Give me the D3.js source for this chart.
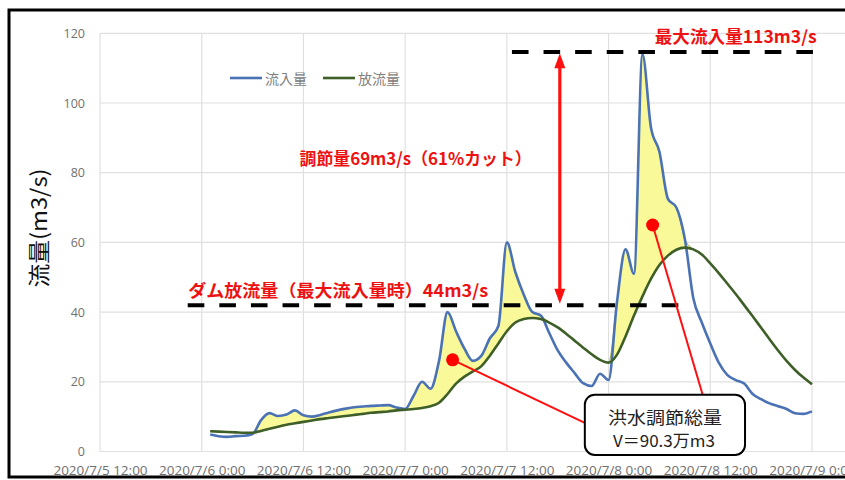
<!DOCTYPE html>
<html><head><meta charset="utf-8">
<script src="https://cdn.jsdelivr.net/npm/d3@7"></script>
<style>html,body{margin:0;padding:0;background:#fff;overflow:hidden}</style>
</head><body><svg id="chart" width="845" height="480"></svg>
<script>
// ---------- data ----------
const seriesNames = ["流入量", "放流量"];
const firstHour = "2020/7/6 1:00";           // hourly data from here
const inflow = [
  4.9, 4.4, 4.2, 4.4, 4.5, 5.0, 9.0, 11.0, 10.2, 10.6, 11.8, 10.4,
  10.0, 10.5, 11.2, 11.8, 12.3, 12.7, 12.9, 13.1, 13.2, 13.3, 12.6, 12.2,
  16.0, 20.0, 18.0, 26.0, 40.0, 34.5, 29.5, 26.0, 27.5, 32.5, 36.0, 60.0,
  51.5, 45.0, 40.0, 39.0, 34.0, 29.0, 25.5, 22.5, 19.6, 18.8, 22.3, 20.5,
  43.0, 58.0, 51.0, 114.0, 93.0, 86.0, 72.5, 70.0, 61.0, 44.0, 37.0, 31.0,
  25.5, 22.0, 20.5, 19.5, 16.5, 15.0, 13.8, 13.0, 12.2, 11.0, 10.8, 11.5
];
const outflow = [
  5.8, 5.7, 5.6, 5.5, 5.4, 5.4, 5.9, 6.5, 7.1, 7.7, 8.1, 8.5,
  8.9, 9.3, 9.6, 9.9, 10.2, 10.5, 10.8, 11.1, 11.3, 11.5, 11.8, 12.0,
  12.2, 12.5, 13.0, 14.0, 16.5, 19.5, 21.5, 23.0, 24.5, 27.5, 31.0, 34.5,
  37.0, 38.0, 38.3, 38.0, 37.0, 35.6, 33.8, 31.8, 29.8, 27.9, 26.3, 25.5,
  27.8, 33.0, 39.0, 44.5, 49.5, 53.5, 56.2, 57.9, 58.5, 58.0, 56.5, 54.0,
  51.2, 48.2, 45.2, 42.0, 38.8, 35.5, 32.2, 29.0, 26.0, 23.4, 21.2, 19.3
];
const tickLabels = ["2020/7/5 12:00", "2020/7/6 0:00", "2020/7/6 12:00", "2020/7/7 0:00",
  "2020/7/7 12:00", "2020/7/8 0:00", "2020/7/8 12:00", "2020/7/9 0:00"];
const yTicks = [0, 20, 40, 60, 80, 100, 120];
const yTitle = "流量(m3/s)";
// annotations: [hours after 2020/7/6 0:00, value]
const maxInflowLine = [[36.6, 114.6], [72.3, 114.6]];
const damOutLine = [[-1.65, 42.0], [56.4, 42.0]];
const arrowAt = [[42.25, 114.3], [42.25, 42.4]];
const dots = [[29.6, 26.3], [53.2, 65.0]];
const calloutBox = [[45.2, 16.3], [64.1, -1.0]];
const calloutEnds = [[45.2, 8.2], [59.1, 16.3]];
const labels = [
  {text: "最大流入量113m3/s", pos: [53.45, 119.4], len: 162},
  {text: "調節量69m3/s（61%カット）", pos: [11.55, 84.5], len: 232},
  {text: "ダム放流量（最大流入量時）44m3/s", pos: [-1.6, 46.6], len: 300}
];
const calloutText = ["洪水調節総量", "V＝90.3万m3"];

// ---------- scales ----------
const parse = d3.timeParse("%Y/%m/%d %H:%M");
const t0 = parse(firstHour);
const times = inflow.map((_, i) => d3.timeHour.offset(t0, i));
const tickTimes = tickLabels.map(parse);
const base = parse("2020/7/6 0:00");
const hrs = h => new Date(base.getTime() + h * 3600e3);

const x = d3.scaleTime().domain([parse("2020/7/5 12:00"), parse("2020/7/9 12:00")]).range([100, 913.7]);
const y = d3.scaleLinear().domain([0, 120]).range([451.5, 33.3]);
const px = p => [x(hrs(p[0])), y(p[1])];

const svg = d3.select("#chart");
const gray = "#707070";

// frame
svg.append("rect").attr("x", 9).attr("y", 10).attr("width", 900).attr("height", 467)
  .attr("fill", "none").attr("stroke", "#000").attr("stroke-width", 3);

// grid
svg.append("g").selectAll("line").data(yTicks).join("line")
  .attr("x1", x.range()[0]).attr("x2", x.range()[1])
  .attr("y1", d => y(d)).attr("y2", d => y(d))
  .attr("stroke", "#e0e0e0").attr("stroke-width", 1.2);
svg.append("g").selectAll("line").data(tickTimes).join("line")
  .attr("x1", d => x(d)).attr("x2", d => x(d))
  .attr("y1", y(0)).attr("y2", y(120))
  .attr("stroke", "#e0e0e0").attr("stroke-width", 1.2);

// axes
const yAxis = svg.append("g").attr("transform", `translate(${x.range()[0]},0)`)
  .call(d3.axisLeft(y).tickValues(yTicks).tickSize(0).tickPadding(15));
const xAxis = svg.append("g").attr("transform", `translate(0,${y(0)})`)
  .call(d3.axisBottom(x).tickValues(tickTimes).tickFormat((d, i) => tickLabels[i]).tickSize(0).tickPadding(14));
[yAxis, xAxis].forEach(g => {
  g.select(".domain").remove();
  g.selectAll("text").attr("fill", gray).attr("font-family", "'Open Sans', sans-serif");
});
yAxis.selectAll("text").attr("font-size", 12.5);
xAxis.selectAll("text").attr("font-size", 13.5);

// y title
svg.append("text").attr("transform", `translate(47,228) rotate(-90)`)
  .attr("text-anchor", "middle").attr("font-family", "'Noto Sans CJK JP', sans-serif")
  .attr("font-size", 22).attr("fill", "#111").attr("textLength", 119).attr("lengthAdjust", "spacingAndGlyphs")
  .text(yTitle);

// fill between
const rows = times.map((t, i) => ({t, a: inflow[i], b: outflow[i]}));
svg.append("path").datum(rows)
  .attr("d", d3.area().curve(d3.curveMonotoneX).x(d => x(d.t))
    .y0(d => y(d.b)).y1(d => y(Math.max(d.a, d.b))))
  .attr("fill", "#f9f99a").attr("stroke", "#a4ab60").attr("stroke-width", 1);

// lines
const line = key => d3.line().curve(d3.curveMonotoneX).x(d => x(d.t)).y(d => y(d[key]));
svg.append("path").datum(rows).attr("d", line("a"))
  .attr("fill", "none").attr("stroke", "#4a72b5").attr("stroke-width", 2.6).attr("stroke-linejoin", "round");
svg.append("path").datum(rows).attr("d", line("b"))
  .attr("fill", "none").attr("stroke", "#3e5f27").attr("stroke-width", 2.6).attr("stroke-linejoin", "round");

// legend
const leg = svg.append("g").attr("font-family", "'Noto Sans CJK JP', sans-serif").attr("font-size", 14).attr("fill", "#808080");
[["#4a72b5", 230], ["#3e5f27", 323]].forEach(([c, lx], i) => {
  leg.append("line").attr("x1", lx).attr("x2", lx + 32).attr("y1", 78).attr("y2", 78)
    .attr("stroke", c).attr("stroke-width", 2.6);
  leg.append("text").attr("x", lx + 35).attr("y", 78).attr("dominant-baseline", "central").text(seriesNames[i]);
});

// dashed lines
[maxInflowLine, damOutLine].forEach(l => {
  const [a, b] = l.map(px);
  svg.append("line").attr("x1", a[0]).attr("x2", b[0]).attr("y1", a[1]).attr("y2", b[1])
    .attr("stroke", "#000").attr("stroke-width", 4).attr("stroke-dasharray", "16.6 15");
});

// arrow
{
  const [a, b] = arrowAt.map(px);
  const red = "#ff1010";
  svg.append("line").attr("x1", a[0]).attr("x2", b[0]).attr("y1", a[1] + 10).attr("y2", b[1] - 10)
    .attr("stroke", red).attr("stroke-width", 3.2);
  svg.append("path").attr("d", `M${a[0]},${a[1]} l-5.5,15 l11,0 Z`).attr("fill", red);
  svg.append("path").attr("d", `M${b[0]},${b[1]} l-5.5,-15 l11,0 Z`).attr("fill", red);
}

// callout lines
dots.forEach((d, i) => {
  const a = px(d), b = px(calloutEnds[i]);
  svg.append("line").attr("x1", a[0]).attr("y1", a[1]).attr("x2", b[0]).attr("y2", b[1])
    .attr("stroke", "#ff1010").attr("stroke-width", 2);
});
svg.append("g").selectAll("circle").data(dots).join("circle")
  .attr("cx", d => px(d)[0]).attr("cy", d => px(d)[1]).attr("r", 6.5).attr("fill", "#ff0000");

// callout box
{
  const [a, b] = calloutBox.map(px);
  svg.append("rect").attr("x", a[0]).attr("y", a[1]).attr("width", b[0] - a[0]).attr("height", b[1] - a[1])
    .attr("rx", 10).attr("fill", "#fff").attr("stroke", "#000").attr("stroke-width", 2);
  const cx = (a[0] + b[0]) / 2;
  svg.append("text").attr("x", cx).attr("y", a[1] + 22).attr("text-anchor", "middle").attr("dominant-baseline", "central")
    .attr("font-family", "'Noto Sans CJK JP', sans-serif").attr("font-size", 17).attr("fill", "#222")
    .attr("textLength", 114).attr("lengthAdjust", "spacingAndGlyphs").text(calloutText[0]);
  svg.append("text").attr("x", cx - 1).attr("y", a[1] + 45).attr("text-anchor", "middle").attr("dominant-baseline", "central")
    .attr("font-family", "'Noto Sans CJK JP', sans-serif").attr("font-size", 16.5).attr("fill", "#222")
    .attr("textLength", 102).attr("lengthAdjust", "spacingAndGlyphs").text(calloutText[1]);
}

// red labels
svg.append("g").selectAll("text").data(labels).join("text")
  .attr("x", d => px(d.pos)[0]).attr("y", d => px(d.pos)[1]).attr("dominant-baseline", "central")
  .attr("font-family", "'Noto Sans CJK JP', sans-serif").attr("font-weight", 700).attr("font-size", 17)
  .attr("fill", "#ee1111").attr("textLength", d => d.len).attr("lengthAdjust", "spacingAndGlyphs")
  .text(d => d.text);
</script></body></html>
